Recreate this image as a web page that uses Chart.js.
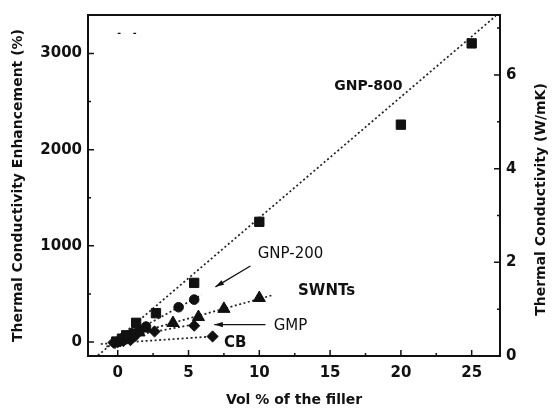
<html>
<head>
  <title>Thermal conductivity enhancement</title>
  <script src="https://cdn.jsdelivr.net/npm/chart.js@4.4.0/dist/chart.umd.min.js"></script>
  <style>
    body { margin: 0; background: #fff; }
    #wrap { width: 552px; height: 410px; }
  </style>
</head>
<body>
<div id="wrap"><canvas id="chart" width="552" height="410"></canvas></div>
<script>
// tick labels
var xTicks = [0, 5, 10, 15, 20, 25];
var yTicks = [0, 1000, 2000, 3000];
var y2Ticks = [0, 2, 4, 6];

// measured points (vol %, enhancement %)
var gnp800X = [-0.1, 0.3, 0.6, 1.3, 2.7, 5.4, 10, 20, 25];
var gnp800Y = [5, 35, 70, 200, 300, 615, 1250, 2260, 3105];
var gnp200X = [0.1, 0.5, 1.0, 1.5, 2.0, 4.3, 5.4];
var gnp200Y = [10, 45, 90, 120, 160, 362, 441];
var swntX = [0.2, 0.6, 1.0, 1.5, 2.0, 3.9, 5.7, 7.5, 10];
var swntY = [15, 40, 70, 100, 140, 198, 260, 345, 458];
var gmpX = [-0.2, 0.2, 0.7, 1.2, 2.6, 5.4];
var gmpY = [-10, 10, 40, 60, 110, 170];
var cbX = [-0.3, 0, 0.4, 0.9, 6.7];
var cbY = [-5, 0, 10, 20, 58];

// dotted guide lines (end points)
var gnp800FitX = [-1.4, 26.7];
var gnp800FitY = [-140, 3390];
var gnp200FitX = [-0.8, 5.9];
var gnp200FitY = [-50, 490];
var swntFitX = [0, 11];
var swntFitY = [40, 490];
var gmpFitX = [0.5, 5.8];
var gmpFitY = [50, 195];
var cbFitX = [-1.2, 6.9];
var cbFitY = [-20, 60];

function pts(xs, ys) {
  return xs.map(function(x, i){ return {x: x, y: ys[i]}; });
}

var ink = '#111';
var tickFont = {family: 'DejaVu Sans', weight: 'bold', size: 15};
function plain(v) { return String(v); }

function markers(label, xs, ys, style, r) {
  return {type: 'scatter', label: label, data: pts(xs, ys), pointStyle: style,
    pointRadius: r, backgroundColor: ink, borderColor: ink, borderWidth: 1, order: 1};
}
function guide(xs, ys) {
  return {type: 'line', data: pts(xs, ys), showLine: true, pointRadius: 0,
    borderColor: '#222', borderWidth: 1.7, borderDash: [2, 2.5], fill: false, order: 2};
}

// labels on the plot, in data units
var notes = [
  {text: 'GNP-800', x: 17.7, y: 2656, font: 'bold 14px "DejaVu Sans"'},
  {text: 'GNP-200', x: 12.2, y: 913, font: '15px "DejaVu Sans"'},
  {text: 'SWNTs', x: 14.75, y: 533, font: 'bold 15px "DejaVu Sans"'},
  {text: 'GMP', x: 12.2, y: 164, font: '15px "DejaVu Sans"'},
  {text: 'CB', x: 8.3, y: -10, font: 'bold 15px "DejaVu Sans"'}
];
var arrows = [
  {x1: 9.37, y1: 790, x2: 6.9, y2: 574},
  {x1: 10.43, y1: 182, x2: 6.82, y2: 182}
];

var decor = {
  id: 'decor',
  afterDraw: function(chart) {
    var ctx = chart.ctx, a = chart.chartArea;
    var sx = chart.scales.x, sy = chart.scales.y, sy2 = chart.scales.y2;
    ctx.save();
    ctx.strokeStyle = ink;
    ctx.fillStyle = ink;
    // frame
    ctx.lineWidth = 2;
    ctx.strokeRect(a.left, a.top, a.right - a.left, a.bottom - a.top);
    // inward ticks
    ctx.lineWidth = 1.5;
    ctx.beginPath();
    xTicks.forEach(function(v, i){
      var p = sx.getPixelForValue(v);
      ctx.moveTo(p, a.bottom); ctx.lineTo(p, a.bottom - 6);
      var m = sx.getPixelForValue(v + (xTicks[1] - xTicks[0]) / 2);
      if (m < a.right - 2) { ctx.moveTo(m, a.bottom); ctx.lineTo(m, a.bottom - 3); }
    });
    yTicks.forEach(function(v){
      var p = sy.getPixelForValue(v);
      ctx.moveTo(a.left, p); ctx.lineTo(a.left + 6, p);
      var m = sy.getPixelForValue(v + (yTicks[1] - yTicks[0]) / 2);
      if (m > a.top + 2) { ctx.moveTo(a.left, m); ctx.lineTo(a.left + 3, m); }
    });
    y2Ticks.forEach(function(v){
      var p = sy2.getPixelForValue(v);
      ctx.moveTo(a.right, p); ctx.lineTo(a.right - 6, p);
      var m = sy2.getPixelForValue(v + (y2Ticks[1] - y2Ticks[0]) / 2);
      if (m > a.top + 2) { ctx.moveTo(a.right, m); ctx.lineTo(a.right - 3, m); }
    });
    ctx.stroke();

    // stray dashes near the top left
    ctx.lineWidth = 1.2;
    ctx.beginPath();
    [[0, 0.2], [1.1, 1.3]].forEach(function(s){
      var yy = sy.getPixelForValue(3210);
      ctx.moveTo(sx.getPixelForValue(s[0]), yy);
      ctx.lineTo(sx.getPixelForValue(s[1]), yy);
    });
    ctx.stroke();

    // notes
    ctx.textAlign = 'center';
    ctx.textBaseline = 'middle';
    notes.forEach(function(n){
      ctx.font = n.font;
      ctx.fillText(n.text, sx.getPixelForValue(n.x), sy.getPixelForValue(n.y));
    });

    // arrows
    arrows.forEach(function(r){
      var x1 = sx.getPixelForValue(r.x1), y1 = sy.getPixelForValue(r.y1);
      var x2 = sx.getPixelForValue(r.x2), y2 = sy.getPixelForValue(r.y2);
      var ang = Math.atan2(y2 - y1, x2 - x1);
      ctx.lineWidth = 1.3;
      ctx.beginPath();
      ctx.moveTo(x1, y1); ctx.lineTo(x2, y2);
      ctx.stroke();
      ctx.beginPath();
      ctx.moveTo(x2, y2);
      ctx.lineTo(x2 - 9 * Math.cos(ang - 0.3), y2 - 9 * Math.sin(ang - 0.3));
      ctx.lineTo(x2 - 9 * Math.cos(ang + 0.3), y2 - 9 * Math.sin(ang + 0.3));
      ctx.closePath();
      ctx.fill();
    });

    // right axis title, reads bottom to top
    ctx.font = 'bold 14px "DejaVu Sans"';
    ctx.translate(541, (a.top + a.bottom) / 2 + 14);
    ctx.rotate(-Math.PI / 2);
    ctx.fillText('Thermal Conductivity (W/mK)', 0, 0);
    ctx.restore();
  }
};

new Chart(document.getElementById('chart'), {
  type: 'scatter',
  data: {
    datasets: [
      markers('GNP-800', gnp800X, gnp800Y, 'rect', 6.6),
      markers('GNP-200', gnp200X, gnp200Y, 'circle', 4.8),
      markers('SWNTs', swntX, swntY, 'triangle', 7),
      markers('GMP', gmpX, gmpY, 'rectRot', 5.6),
      markers('CB', cbX, cbY, 'rectRot', 5.6),
      guide(gnp800FitX, gnp800FitY),
      guide(gnp200FitX, gnp200FitY),
      guide(swntFitX, swntFitY),
      guide(gmpFitX, gmpFitY),
      guide(cbFitX, cbFitY)
    ]
  },
  options: {
    responsive: false,
    animation: false,
    clip: false,
    layout: {padding: {top: 10, left: 0, right: 0, bottom: 0}},
    plugins: {legend: {display: false}, tooltip: {enabled: false}},
    scales: {
      x: {
        type: 'linear', position: 'bottom', min: -2.1, max: 27,
        afterBuildTicks: function(s){ s.ticks = xTicks.map(function(v){ return {value: v}; }); },
        afterFit: function(s){ s.height = 54; },
        grid: {display: false, drawTicks: false},
        border: {display: false},
        ticks: {font: tickFont, color: ink, padding: 8, maxRotation: 0, callback: plain},
        title: {display: true, text: 'Vol % of the filler', color: ink,
          font: {family: 'DejaVu Sans', weight: 'bold', size: 14}, padding: {top: 0, bottom: 1}}
      },
      y: {
        type: 'linear', position: 'left', min: -145, max: 3400,
        afterBuildTicks: function(s){ s.ticks = yTicks.map(function(v){ return {value: v}; }); },
        afterFit: function(s){ s.width = 88; },
        grid: {display: false, drawTicks: false},
        border: {display: false},
        ticks: {font: tickFont, color: ink, padding: 6, callback: plain},
        title: {display: true, text: 'Thermal Conductivity Enhancement (%)', color: ink,
          font: {family: 'DejaVu Sans', weight: 'bold', size: 14}, padding: {top: 10, bottom: 0}}
      },
      y2: {
        type: 'linear', position: 'right', min: 0, max: 7.28,
        afterBuildTicks: function(s){ s.ticks = y2Ticks.map(function(v){ return {value: v}; }); },
        afterFit: function(s){ s.width = 52; },
        grid: {display: false, drawTicks: false},
        border: {display: false},
        ticks: {font: tickFont, color: ink, padding: 6, callback: plain}
      }
    }
  },
  plugins: [decor]
});
</script>
</body>
</html>
